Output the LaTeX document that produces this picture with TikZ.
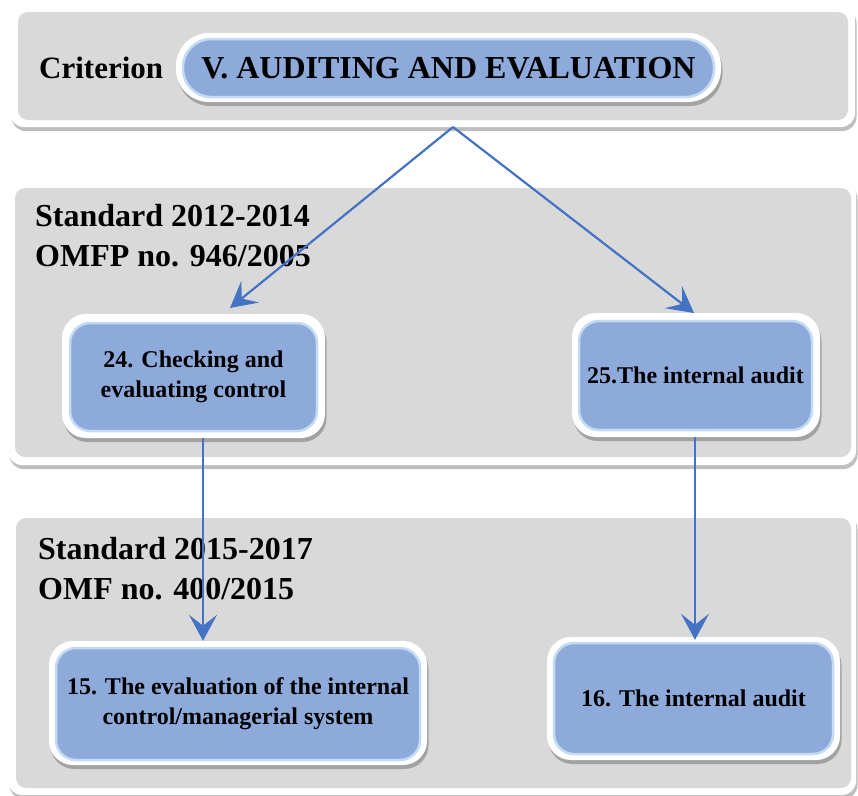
\documentclass[tikz,border=0pt]{standalone}
\usepackage{fontspec}
\setmainfont{Liberation Serif}
\usetikzlibrary{shadows,arrows.meta}
\definecolor{panelgray}{HTML}{D9D9D9}
\definecolor{boxblue}{HTML}{8EAADB}
\definecolor{boxrim}{HTML}{C3DCF4}
\definecolor{arrblue}{HTML}{4472C4}
\begin{document}
\begin{tikzpicture}[x=1pt,y=-1pt,
  shad/.style={drop shadow={shadow xshift=1.5pt,shadow yshift=-4pt,fill=black,opacity=0.25}},
  panelout/.style={fill=white,rounded corners=14pt,inner sep=0pt,shad},
  panelin/.style={fill=panelgray,rounded corners=10pt,inner sep=0pt},
  boxout/.style={fill=white,rounded corners=24pt,inner sep=0pt,shad},
  boxin/.style={fill=boxblue,draw=boxrim,line width=2.5pt,rounded corners=20pt,inner sep=0pt,
     align=center,font=\fontsize{24}{30}\selectfont\bfseries},
  hdr/.style={anchor=west,align=left,inner sep=0pt,font=\fontsize{32}{40}\selectfont\bfseries},
  arr/.style={draw=arrblue,line width=2.2pt,-{Stealth[length=26pt,width=28pt,inset=11pt]}}]
\useasboundingbox (0,0) rectangle (858,795);
\fill[white] (0,0) rectangle (858,795);
% panels
\node[panelout,minimum width=845pt,minimum height=122pt] (topo) at (432.5,66) {};
\node[panelin,minimum width=830pt,minimum height=108pt] (topi) at (433,66) {};
\node[panelout,minimum width=848pt,minimum height=284pt] (mido) at (432,323) {};
\node[panelin,minimum width=836pt,minimum height=269pt] (midi) at (433,322.5) {};
\node[panelout,minimum width=848pt,minimum height=284pt] (boto) at (432,653) {};
\node[panelin,minimum width=835pt,minimum height=270pt] (boti) at (433.5,653) {};
% top criterion
\node[anchor=west,inner sep=0pt,font=\fontsize{31}{36}\selectfont\bfseries] (crit) at (39,68) {Criterion};
\node[fill=white,rounded corners=33pt,inner sep=0pt,shad,minimum width=545pt,minimum height=69pt] (pillo) at (448.5,67.5) {};
\node[fill=boxblue,draw=boxrim,line width=2.5pt,rounded corners=28pt,inner sep=0pt,minimum width=531pt,minimum height=58pt,
  font=\fontsize{32}{36}\selectfont\bfseries] (pill) at (448.5,68) {V. AUDITING AND EVALUATION};
% headers
\node[hdr] (h1) at (35,236) {Standard 2012-2014\\OMFP no. 946/2005};
\node[hdr] (h2) at (38,569) {Standard 2015-2017\\OMF no. 400/2015};
% boxes
\node[boxout,minimum width=263pt,minimum height=124pt] (b24o) at (193.5,376) {};
\node[boxin,minimum width=247pt,minimum height=108pt] (b24) at (193.5,377) {24. Checking and\\evaluating control};
\node[boxout,minimum width=248pt,minimum height=124pt] (b25o) at (696,375) {};
\node[boxin,minimum width=233pt,minimum height=109pt] (b25) at (695.5,375.5) {25.The internal audit};
\node[boxout,minimum width=378pt,minimum height=124pt] (b15o) at (238,703) {};
\node[boxin,minimum width=364pt,minimum height=112pt] (b15) at (238,704) {15. The evaluation of the internal\\control/managerial system};
\node[boxout,minimum width=293pt,minimum height=123pt] (b16o) at (693.5,698.5) {};
\node[boxin,minimum width=279pt,minimum height=111pt] (b16) at (693.5,698.5) {16. The internal audit};
% connectors
\coordinate (split) at (453,127);
\coordinate (t24) at (230,308);
\coordinate (t25) at (694,313);
\coordinate (vl) at (203,0);
\coordinate (vr) at (695,0);
\draw[arr] (split) -- (t24);
\draw[arr] (split) -- (t25);
\draw[arr] (b24o.south -| vl) -- (b15o.north -| vl);
\draw[arr] (b25o.south -| vr) -- ([yshift=-3pt]b16o.north -| vr);
\end{tikzpicture}
\end{document}
